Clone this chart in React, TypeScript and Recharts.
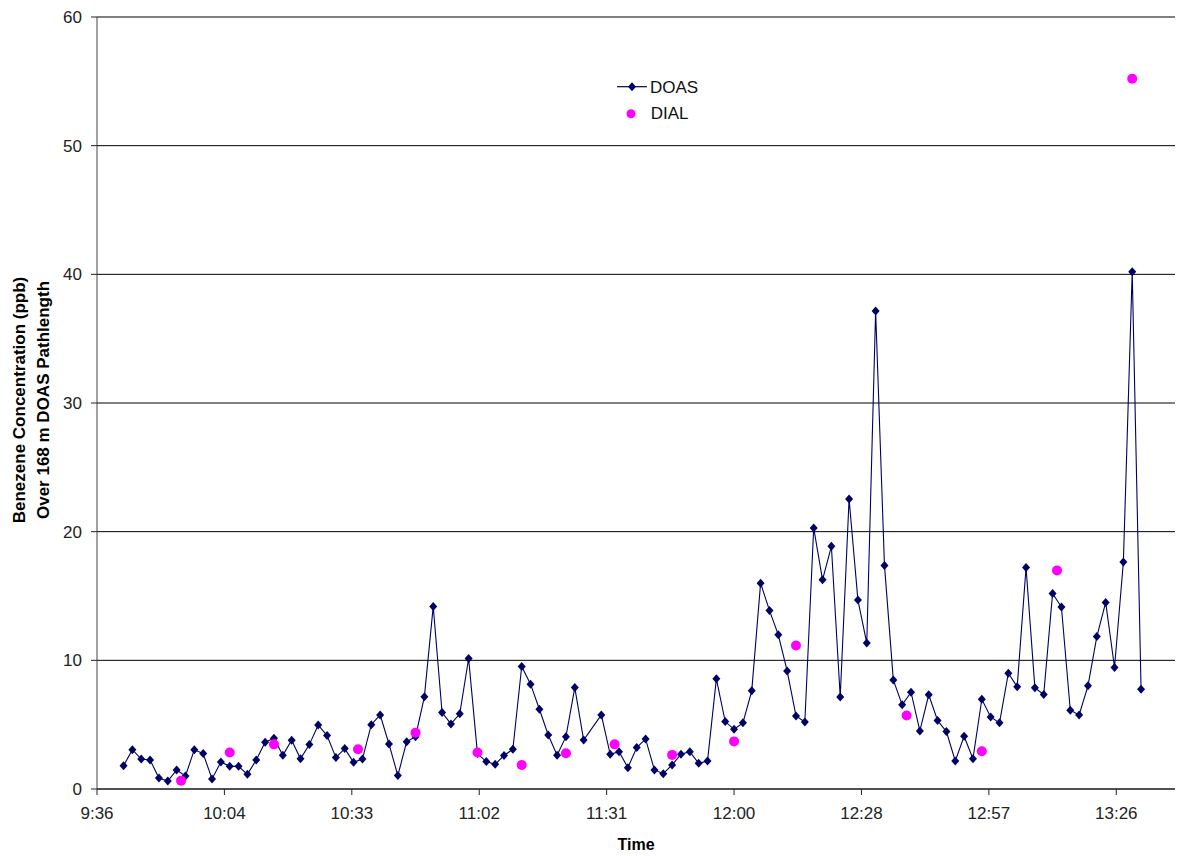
import { ScatterChart, Scatter, XAxis, YAxis, CartesianGrid, Legend, Label } from 'recharts'

// DOAS readings, one every ~2 minutes (11:28 is missing)
const doasTimes = [
  '9:42', '9:44', '9:46', '9:48', '9:50', '9:52', '9:54', '9:56', '9:58', '10:00',
  '10:02', '10:04', '10:06', '10:08', '10:10', '10:12', '10:14', '10:16', '10:18', '10:20',
  '10:22', '10:24', '10:26', '10:28', '10:30', '10:32', '10:34', '10:36', '10:38', '10:40',
  '10:42', '10:44', '10:46', '10:48', '10:50', '10:52', '10:54', '10:56', '10:58', '11:00',
  '11:02', '11:04', '11:06', '11:08', '11:10', '11:12', '11:14', '11:16', '11:18', '11:20',
  '11:22', '11:24', '11:26', '11:30', '11:32', '11:34', '11:36', '11:38', '11:40', '11:42',
  '11:44', '11:46', '11:48', '11:50', '11:52', '11:54', '11:56', '11:58', '12:00', '12:02',
  '12:04', '12:06', '12:08', '12:10', '12:12', '12:14', '12:16', '12:18', '12:20', '12:22',
  '12:24', '12:26', '12:28', '12:30', '12:32', '12:34', '12:36', '12:38', '12:40', '12:42',
  '12:44', '12:46', '12:48', '12:50', '12:52', '12:54', '12:56', '12:58', '13:00', '13:02',
  '13:04', '13:06', '13:08', '13:10', '13:12', '13:14', '13:16', '13:18', '13:20', '13:22',
  '13:24', '13:26', '13:28', '13:30', '13:32',
]
const doasValues = [
  1.81, 3.06, 2.33, 2.26, 0.86, 0.62, 1.48, 1.01, 3.06, 2.75,
  0.78, 2.1, 1.76, 1.76, 1.14, 2.26, 3.63, 3.94, 2.62, 3.79,
  2.35, 3.45, 4.98, 4.15, 2.44, 3.14, 2.07, 2.33, 5.0, 5.76,
  3.5, 1.04, 3.68, 4.07, 7.16, 14.19, 5.94, 5.06, 5.84, 10.14,
  2.75, 2.13, 1.92, 2.6, 3.09, 9.52, 8.15, 6.2, 4.2, 2.62,
  4.07, 7.88, 3.81, 5.76, 2.7, 2.9, 1.66, 3.22, 3.89, 1.48,
  1.19, 1.87, 2.7, 2.9, 2.0, 2.18, 8.56, 5.24, 4.64, 5.14,
  7.63, 16.0, 13.88, 11.98, 9.18, 5.68, 5.21, 20.29, 16.26, 18.86,
  7.15, 22.54, 14.68, 11.34, 37.15, 17.38, 8.48, 6.54, 7.52, 4.51,
  7.32, 5.32, 4.46, 2.18, 4.1, 2.35, 6.98, 5.6, 5.14, 9.0,
  7.94, 17.22, 7.86, 7.34, 15.2, 14.14, 6.12, 5.76, 8.02, 11.85,
  14.5, 9.44, 17.64, 40.2, 7.76,
]

const dialTimes = [
  '9:55', '10:06', '10:16', '10:35', '10:48', '11:02', '11:12', '11:22',
  '11:33', '11:46', '12:00', '12:14', '12:39', '12:56', '13:13', '13:30',
]
const dialValues = [
  0.65, 2.83, 3.47, 3.09, 4.38, 2.83, 1.87, 2.78,
  3.47, 2.65, 3.7, 11.15, 5.71, 2.93, 16.99, 55.2,
]

// excel style time axis: major unit 0.02 day = 28.8 min
const xTicks = [576, 604.8, 633.6, 662.4, 691.2, 720, 748.8, 777.6, 806.4]
const xTickLabels = ['9:36', '10:04', '10:33', '11:02', '11:31', '12:00', '12:28', '12:57', '13:26']
const yTicks = [0, 10, 20, 30, 40, 50, 60]

const toMin = (s: string) => {
  const [h, m] = s.split(':')
  return Number(h) * 60 + Number(m)
}

const doasData = doasTimes.map((t, i) => ({ t: toMin(t), v: doasValues[i] }))
const dialData = dialTimes.map((t, i) => ({ t: toMin(t), v: dialValues[i] }))

const FONT = "Arial, 'Liberation Sans', sans-serif"
const NAVY = '#000066'
const PINK = '#ff00ff'

const Diamond = (props: any) => {
  const { cx, cy } = props
  return <path d={`M${cx},${cy - 4.5}L${cx + 4},${cy}L${cx},${cy + 4.5}L${cx - 4},${cy}Z`} fill={NAVY} />
}

const Dot = (props: any) => {
  const { cx, cy } = props
  return <circle cx={cx} cy={cy} r={5} fill={PINK} />
}

const renderLegend = () => (
  <svg width={110} height={52} style={{ fontFamily: FONT, fontSize: 17 }}>
    <line x1={7} x2={37} y1={13.7} y2={13.7} stroke={NAVY} strokeWidth={1.2} />
    <path d="M22,9.2L26,13.7L22,18.2L18,13.7Z" fill={NAVY} />
    <text x={40} y={14} dominantBaseline="central" fill="#111">DOAS</text>
    <circle cx={21} cy={40.7} r={4.5} fill={PINK} />
    <text x={40.7} y={40.5} dominantBaseline="central" fill="#111">DIAL</text>
  </svg>
)

const YTitle = (props: any) => {
  const vb = props.viewBox
  const cy = vb.y + vb.height / 2 - 3
  return (
    <g style={{ fontFamily: FONT, fontSize: 17, fontWeight: 'bold' }} fill="#000">
      <text x={25} y={cy} textAnchor="middle" transform={`rotate(-90, 25, ${cy})`}>Benezene Concentration (ppb)</text>
      <text x={49} y={cy} textAnchor="middle" transform={`rotate(-90, 49, ${cy})`}>Over 168 m DOAS Pathlength</text>
    </g>
  )
}

const XTitle = (props: any) => {
  const vb = props.viewBox
  return (
    <text x={vb.x + vb.width / 2} y={vb.y + 61} textAnchor="middle"
      style={{ fontFamily: FONT, fontSize: 16, fontWeight: 'bold' }} fill="#000">Time</text>
  )
}

const App = () => {
  return (
    <div style={{ position: 'absolute', left: 0, top: 0, width: 1177, height: 856, background: '#fff' }}>
      <ScatterChart width={1177} height={856} margin={{ top: 17, right: 2, bottom: 0, left: 0 }}>
        <CartesianGrid vertical={false} stroke="#000" strokeWidth={1} />
        <XAxis type="number" dataKey="t" domain={[576, 819.67]} ticks={xTicks} interval={0}
          allowDataOverflow height={67} tickSize={6} tickMargin={12}
          tickFormatter={(v: number, i: number) => xTickLabels[i]}
          axisLine={{ stroke: '#222' }} tickLine={{ stroke: '#222' }}
          tick={{ fill: '#222', fontSize: 17, fontFamily: FONT }}>
          <Label content={XTitle} />
        </XAxis>
        <YAxis type="number" dataKey="v" domain={[0, 60]} ticks={yTicks} interval={0}
          width={97} tickSize={6} tickMargin={9}
          axisLine={{ stroke: '#444' }} tickLine={{ stroke: '#222' }}
          tick={{ fill: '#222', fontSize: 17, fontFamily: FONT }}>
          <Label content={YTitle} />
        </YAxis>
        <Legend layout="vertical" align="center" verticalAlign="middle" content={renderLegend}
          wrapperStyle={{ left: 610, top: 73, width: 110, height: 52 }} />
        <Scatter name="DOAS" data={doasData} shape={<Diamond />} line={{ stroke: NAVY, strokeWidth: 1.1 }}
          lineType="joint" isAnimationActive={false} />
        <Scatter name="DIAL" data={dialData} shape={<Dot />} isAnimationActive={false} />
      </ScatterChart>
    </div>
  )
}

export default App
